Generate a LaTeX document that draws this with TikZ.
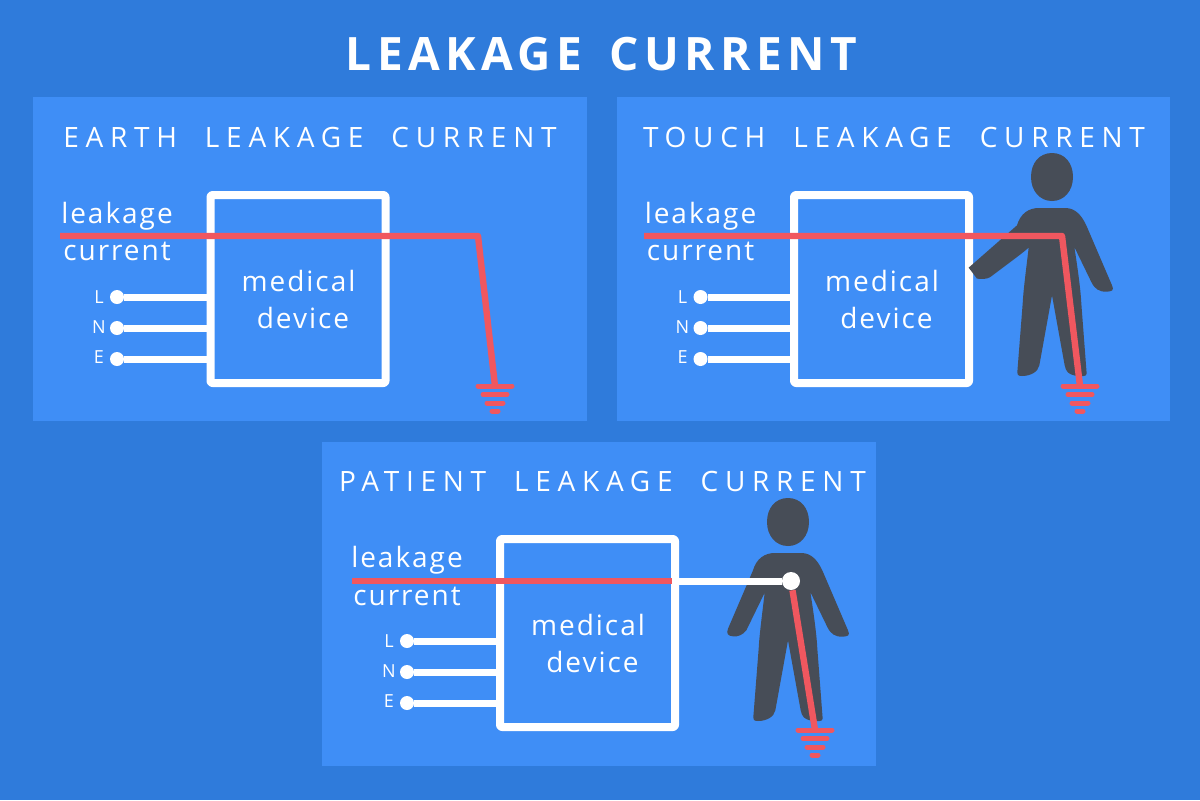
\documentclass[tikz,border=0pt]{standalone}
\usepackage{fontspec}
\setmainfont{Open Sans}
\newfontfamily\titlefont[LetterSpace=12,WordSpace=1.55]{Open Sans Bold}
\newfontfamily\headfont[LetterSpace=24,WordSpace=2]{Open Sans}
\newfontfamily\labelfont[LetterSpace=7]{Open Sans}
\definecolor{bgblue}{HTML}{2F7BDB}
\definecolor{panelblue}{HTML}{3F8EF6}
\definecolor{leakred}{HTML}{F0575F}
\definecolor{persongray}{HTML}{474D57}
% ground symbol below a named coordinate
\newcommand{\earthbars}[1]{%
\draw[bar] ([shift={(-17,0)}]#1) -- ([shift={(17,0)}]#1);
\draw[bar] ([shift={(-12,8.5)}]#1) -- ([shift={(12,8.5)}]#1);
\draw[bar] ([shift={(-8,17)}]#1) -- ([shift={(8,17)}]#1);
\draw[bar] ([shift={(-3,25)}]#1) -- ([shift={(3,25)}]#1);
}
% person, #1 = head centre, #2 = left arm
\newcommand{\personshape}[2]{%
\begin{scope}[shift={#1},scale=1/3]
\fill[persongray] (0,-72) .. controls (38,-72) and (63,-42) .. (63,0) .. controls (63,42) and (36,72) .. (0,72) .. controls (-36,72) and (-63,42) .. (-63,0) .. controls (-63,-42) and (-38,-72) .. (0,-72) -- cycle;
\fill[persongray] (-40,93) -- (40,93) .. controls (70,93) and (90,115) .. (105,150) -- (180,325) .. controls (187,340) and (180,343) .. (165,344) .. controls (140,345) and (128,335) .. (118,315) -- (67,210) .. controls (78,280) and (86,340) .. (88,380) -- (104,590) .. controls (104,600) and (85,598) .. (70,596) .. controls (50,592) and (42,585) .. (38,565) -- (0,355) -- (-38,565) .. controls (-42,585) and (-65,597) .. (-90,597) .. controls (-100,597) and (-104,595) .. (-104,585) -- (-88,380) .. controls (-86,340) and (-78,280) .. (-70,212) #2 -- (-105,145) .. controls (-95,110) and (-70,93) .. (-40,93) -- cycle;
\end{scope}
}
\begin{document}
\begin{tikzpicture}[x=.5pt,y=-.5pt,line join=round,
panel/.style={fill=panelblue},
devicebox/.style={draw=white,line width=4pt,rounded corners=1pt,minimum width=87.5pt,minimum height=94pt,inner sep=0pt},
headtext/.style={text=white,font=\headfont\fontsize{14}{14}\selectfont,inner sep=0pt},
labeltext/.style={text=white,font=\labelfont\fontsize{14}{14}\selectfont,inner sep=0pt},
phase/.style={text=white,font=\labelfont\fontsize{9}{9}\selectfont,inner sep=0pt},
terminal/.style={circle,fill=white,minimum size=7pt,inner sep=0pt},
wire/.style={draw=white,line width=3.5pt},
redline/.style={draw=leakred,line width=3.2pt},
bar/.style={draw=leakred,line width=2.5pt,line cap=round}]
\useasboundingbox[fill=bgblue] (0,0) rectangle (1200,800);
\node[text=white,font=\titlefont\fontsize{23}{23}\selectfont,inner sep=0pt] (title) at (601.5,54) {LEAKAGE CURRENT};
\fill[panel] (33,97) rectangle (587,421);
\fill[panel] (617,97) rectangle (1170,421);
\fill[panel] (322,442) rectangle (876,766);
% earth
\begin{scope}
\node[headtext] (h1) at (310,137) {EARTH LEAKAGE CURRENT};
\node[devicebox] (b1) at (298,289) {};
\node[labeltext] (m1) at (298.5,281) {medical};
\node[labeltext] (d1) at (303,318) {device};
\node[labeltext] (k1) at (117,216) {leakage};
\node[labeltext] (c1) at (117,251) {current};
\node[terminal] (tl1) at (117,297) {};
\node[terminal] (tn1) at (117,328) {};
\node[terminal] (te1) at (117,359) {};
\node[phase] (pl1) at (99,297) {L};
\node[phase] (pn1) at (99,327) {N};
\node[phase] (pe1) at (99,357) {E};
\coordinate (ra1) at (60,236);
\coordinate (rb1) at (478,236);
\coordinate (g1) at (495,386);
\end{scope}
\begin{scope}
\draw[wire] (tl1) -- (tl1 -| b1.west);
\draw[wire] (tn1) -- (tn1 -| b1.west);
\draw[wire] (te1) -- (te1 -| b1.west);
\draw[redline] (ra1) -- (rb1) -- (g1);
\earthbars{g1}
\end{scope}
% touch
\begin{scope}
\node[headtext] (h2) at (894,137) {TOUCH LEAKAGE CURRENT};
\node[devicebox] (b2) at (881.5,289) {};
\node[labeltext] (m2) at (882,281) {medical};
\node[labeltext] (d2) at (886.5,318) {device};
\node[labeltext] (k2) at (700.5,216) {leakage};
\node[labeltext] (c2) at (700.5,251) {current};
\node[terminal] (tl2) at (700.5,297) {};
\node[terminal] (tn2) at (700.5,328) {};
\node[terminal] (te2) at (700.5,359) {};
\node[phase] (pl2) at (682.5,297) {L};
\node[phase] (pn2) at (682.5,327) {N};
\node[phase] (pe2) at (682.5,357) {E};
\coordinate (ra2) at (644,236);
\coordinate (rb2) at (1062,236);
\coordinate (g2) at (1080,386);
\end{scope}
\personshape{(1052,177)}{.. controls (-85,225) and (-105,240) .. (-125,255) -- (-185,300) .. controls (-195,307) and (-210,306) .. (-225,305) -- (-250,272)}
\begin{scope}
\draw[wire] (tl2) -- (tl2 -| b2.west);
\draw[wire] (tn2) -- (tn2 -| b2.west);
\draw[wire] (te2) -- (te2 -| b2.west);
\draw[redline] (ra2) -- (rb2) -- (g2);
\earthbars{g2}
\end{scope}
% patient
\begin{scope}
\node[headtext] (h3) at (602.5,481) {PATIENT LEAKAGE CURRENT};
\node[devicebox] (b3) at (587.5,633) {};
\node[labeltext] (m3) at (588,625) {medical};
\node[labeltext] (d3) at (592.5,662) {device};
\node[labeltext] (k3) at (407,560) {leakage};
\node[labeltext] (c3) at (407,596) {current};
\node[terminal] (tl3) at (407,641) {};
\node[terminal] (tn3) at (407,672) {};
\node[terminal] (te3) at (407,703) {};
\node[phase] (pl3) at (389,641) {L};
\node[phase] (pn3) at (389,671) {N};
\node[phase] (pe3) at (389,701) {E};
\coordinate (ra3) at (352,581);
\coordinate (rb3) at (672,581);
\coordinate (g3) at (815,730);
\end{scope}
\personshape{(788,522)}{-- (-125,325) .. controls (-135,338) and (-150,345) .. (-165,343) .. controls (-180,342) and (-186,335) .. (-180,320)}
\node[circle,fill=white,minimum size=9pt,inner sep=0pt] (p3) at (791,581) {};
\begin{scope}
\draw[wire] (tl3) -- (tl3 -| b3.west);
\draw[wire] (tn3) -- (tn3 -| b3.west);
\draw[wire] (te3) -- (te3 -| b3.west);
\draw[wire] (rb3) -- (p3);
\draw[redline] (ra3) -- (rb3);
\draw[redline] (p3) -- (g3);
\earthbars{g3}
\end{scope}
\end{tikzpicture}
\end{document}
